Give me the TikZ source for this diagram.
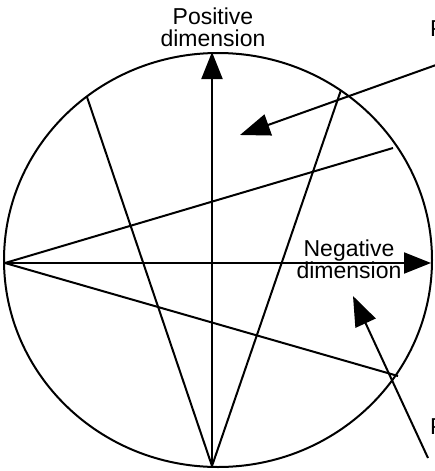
\documentclass[tikz,border=0pt]{standalone}
\usepackage{fontspec}
\setmainfont{Liberation Sans}
\usetikzlibrary{arrows.meta}

\begin{document}
\begin{tikzpicture}[x=1pt, y=-1pt, line width=2pt, lbl/.style={align=center, inner sep=0pt, font=\fontsize{23}{22}\selectfont}, cut/.style={anchor=west, inner sep=0pt, font=\fontsize{23}{22}\selectfont}, arr/.style={-{Triangle[length=27pt,width=21pt]}}, pointer/.style={-{Triangle[length=30pt,width=22pt]}}]
\useasboundingbox (0,0) rectangle (435,471);
\clip (0,0) rectangle (435,471);
% circle and points on it
\draw (218,260) ellipse [x radius=214, y radius=207];
\coordinate (left) at (5,263);
\coordinate (bottom) at (212,466);
\coordinate (top) at (212,52);
\coordinate (right) at (431,263);
\coordinate (ul) at (87,97);
\coordinate (ur) at (341,90);
\coordinate (mr) at (393,148);
\coordinate (lr) at (398,376);
% axes
\draw[arr] (bottom) -- (top);
\draw[arr] (left) -- (right);
% other lines
\draw (bottom) -- (ul);
\draw (bottom) -- (ur);
\draw (left) -- (mr);
\draw (left) -- (lr);
% labels
\node[lbl] (pos) at (213,27) {Positive\\dimension};
\node[lbl] (neg) at (349,259) {Negative\\dimension};
\node[cut] (p1) at (429,29) {P};
\node[cut] (p2) at (429,427) {P};
\coordinate (s1) at (436,65);
\coordinate (t1) at (240,135);
\coordinate (s2) at (428,458);
\coordinate (t2) at (353,296);
\draw[pointer] (s1) -- (t1);
\draw[pointer] (s2) -- (t2);
\end{tikzpicture}
\end{document}
